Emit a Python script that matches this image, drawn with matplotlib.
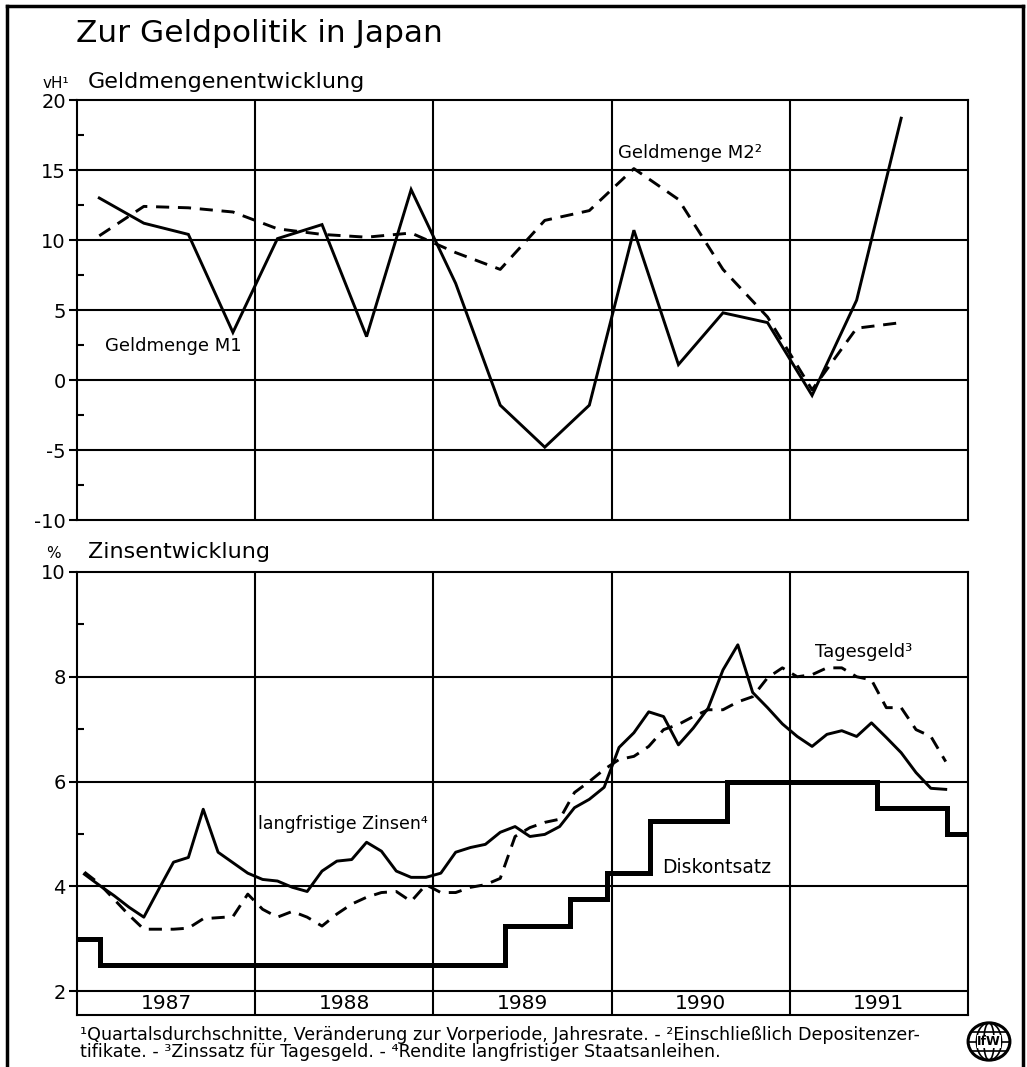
import matplotlib
matplotlib.use("Agg")
import matplotlib.pyplot as plt
import numpy as np
from matplotlib.lines import Line2D
from matplotlib.patches import Ellipse

plt.rcParams['font.family'] = ['DejaVu Sans']

# ---------------- Data ----------------
years = ['1987', '1988', '1989', '1990', '1991']

# Quarterly money growth (vH), Q1 1987 .. Q3 1991
m1_growth = [13.0, 11.2, 10.4, 3.4, 10.1, 11.1, 3.1, 13.6, 6.9, -1.8,
             -4.8, -1.8, 10.7, 1.1, 4.8, 4.1, -1.1, 5.7, 18.7]
m2_growth = [10.3, 12.4, 12.3, 12.0, 10.8, 10.4, 10.2, 10.5, 9.1, 7.9,
             11.4, 12.1, 15.1, 12.9, 7.9, 4.5, -0.7, 3.7, 4.1]

# Monthly interest rates (%), Jan 1987 .. Nov 1991
long_rate = [4.23, 4.02, 3.82, 3.60, 3.41, 3.94, 4.46, 4.55, 5.47, 4.65,
             4.45, 4.25, 4.13, 4.10, 3.98, 3.90, 4.29, 4.48, 4.51, 4.84,
             4.67, 4.29, 4.17, 4.17, 4.25, 4.65, 4.74, 4.80, 5.03, 5.14,
             4.95, 4.99, 5.14, 5.50, 5.66, 5.89, 6.65, 6.93, 7.33, 7.24,
             6.70, 7.02, 7.40, 8.13, 8.61, 7.70, 7.41, 7.10, 6.86, 6.67,
             6.90, 6.97, 6.86, 7.12, 6.84, 6.55, 6.17, 5.87, 5.85]
call_rate = [4.27, 4.05, 3.75, 3.45, 3.18, 3.18, 3.18, 3.20, 3.38, 3.40,
             3.42, 3.85, 3.56, 3.41, 3.52, 3.41, 3.24, 3.47, 3.66, 3.79,
             3.88, 3.90, 3.71, 4.03, 3.88, 3.88, 3.98, 4.03, 4.15, 4.95,
             5.12, 5.22, 5.28, 5.79, 6.00, 6.23, 6.42, 6.48, 6.67, 6.99,
             7.09, 7.24, 7.37, 7.37, 7.52, 7.62, 7.98, 8.17, 8.00, 8.04,
             8.17, 8.17, 8.00, 7.94, 7.41, 7.41, 6.99, 6.86, 6.38]

# Discount rate: change dates (months since Jan 1987) and levels
discount_dates = [0, 1.55, 28.85, 33.2, 35.7, 38.6, 43.8, 53.9, 58.6, 60]
discount_rate = [3.0, 2.5, 3.25, 3.75, 4.25, 5.25, 6.0, 5.5, 5.0, 5.0]

top_ticks = [-10, -5, 0, 5, 10, 15, 20]
bottom_ticks = [2, 4, 6, 8, 10]

# ---------------- Figure ----------------
W, H = 1027, 1067
fig = plt.figure(figsize=(W / 100, H / 100), dpi=100)


def fx(x):
    return x / W


def fy(y):
    return 1 - y / H


GRID_LW = 1.5
LINE_LW = 2.1
q_x = np.arange(len(m1_growth)) * 3 + 1.5
m_x = np.arange(len(long_rate)) + 0.5
year_bounds = [12, 24, 36, 48]

# ---- top panel ----
ax1 = fig.add_axes([fx(77), fy(520), fx(968) - fx(77), fy(100) - fy(520)])
ax1.set_xlim(0, 60)
ax1.set_ylim(-10, 20)
for v in top_ticks[1:-1]:
    ax1.axhline(v, color='black', lw=GRID_LW, zorder=1)
for b in year_bounds:
    ax1.axvline(b, color='black', lw=GRID_LW, zorder=1)
ax1.plot(q_x, m1_growth, color='black', lw=LINE_LW, zorder=3,
         solid_joinstyle='miter')
ax1.plot(q_x, m2_growth, color='black', lw=LINE_LW, zorder=3,
         dashes=(4.5, 3))
ax1.set_yticks(top_ticks)
ax1.set_yticklabels([str(t) for t in top_ticks])
ax1.set_yticks(np.arange(-7.5, 20, 5), minor=True)
ax1.set_xticks([])
ax1.tick_params(axis='y', which='major', direction='out', length=6,
                width=1.5, labelsize=14, pad=2)
ax1.tick_params(axis='y', which='minor', direction='in', length=5, width=1.5)
for s in ax1.spines.values():
    s.set_linewidth(GRID_LW)

ax1.text(1.9, 2.4, 'Geldmenge M1', fontsize=13, ha='left', va='center')
ax1.text(36.4, 16.2, 'Geldmenge M2²', fontsize=13, ha='left', va='center')

# ---- bottom panel ----
strip_bottom = 2 - 24 / 52.4
ax2 = fig.add_axes([fx(77), fy(1015), fx(968) - fx(77), fy(572) - fy(1015)])
ax2.set_xlim(0, 60)
ax2.set_ylim(strip_bottom, 10)
for v in [2, 4, 6, 8]:
    ax2.axhline(v, color='black', lw=GRID_LW, zorder=1)
for b in year_bounds:
    ax2.axvline(b, color='black', lw=GRID_LW, zorder=1)
ax2.plot(m_x, long_rate, color='black', lw=LINE_LW, zorder=3)
ax2.plot(m_x, call_rate, color='black', lw=LINE_LW, zorder=3,
         dashes=(4.5, 3))
ax2.step(discount_dates, discount_rate, where='post', color='black',
         lw=3.6, zorder=4, solid_joinstyle='miter')
ax2.set_yticks(bottom_ticks)
ax2.set_yticks([3, 5, 7, 9], minor=True)
ax2.set_xticks([])
ax2.tick_params(axis='y', which='major', direction='out', length=6,
                width=1.5, labelsize=14, pad=2)
ax2.tick_params(axis='y', which='minor', direction='in', length=5, width=1.5)
for s in ax2.spines.values():
    s.set_linewidth(GRID_LW)
for i, yr in enumerate(years):
    ax2.text(12 * i + 6, (2 + strip_bottom) / 2, yr, fontsize=14.5,
             ha='center', va='center')

ax2.text(12.2, 5.18, 'langfristige Zinsen⁴', fontsize=12.5, ha='left',
         va='center')
ax2.text(49.7, 8.48, 'Tagesgeld³', fontsize=13, ha='left', va='center')
ax2.text(39.4, 4.35, 'Diskontsatz', fontsize=13.5, ha='left', va='center')

# ---- titles / labels ----
fig.text(fx(76), fy(33), 'Zur Geldpolitik in Japan', fontsize=22.5,
         ha='left', va='center')
fig.text(fx(43), fy(83), 'vH¹', fontsize=11, ha='left', va='center')
fig.text(fx(88), fy(82), 'Geldmengenentwicklung', fontsize=16,
         ha='left', va='center')
fig.text(fx(46), fy(553), '%', fontsize=11, ha='left', va='center')
fig.text(fx(88), fy(552), 'Zinsentwicklung', fontsize=16,
         ha='left', va='center')

fig.text(fx(80), fy(1035),
         '¹Quartalsdurchschnitte, Veränderung zur Vorperiode, Jahresrate. - '
         '²Einschließlich Depositenzer-', fontsize=12.6, ha='left',
         va='center')
fig.text(fx(80), fy(1052),
         'tifikate. - ³Zinssatz für Tagesgeld. - ⁴Rendite langfristiger '
         'Staatsanleihen.', fontsize=12.6, ha='left', va='center')

# ---- outer frame ----
frame_kw = dict(color='black', lw=2.5, transform=fig.transFigure)
fig.add_artist(Line2D([fx(7), fx(7)], [fy(6), fy(1067)], **frame_kw))
fig.add_artist(Line2D([fx(7), fx(1023)], [fy(6), fy(6)], **frame_kw))
fig.add_artist(Line2D([fx(1023), fx(1023)], [fy(6), fy(1067)], **frame_kw))

# ---- logo ----
lax = fig.add_axes([fx(966), fy(1062), fx(1012) - fx(966), fy(1021) - fy(1062)])
lax.set_xlim(-1.1, 1.1)
lax.set_ylim(-1.1, 1.1)
lax.axis('off')
lax.add_patch(Ellipse((0, 0), 2, 2, fill=False, lw=2.2, color='black'))
for w in [1.2, 0.5]:
    lax.add_patch(Ellipse((0, 0), w, 2, fill=False, lw=1.2, color='black'))
for yy in [-0.5, 0, 0.5]:
    xx = np.sqrt(1 - yy ** 2)
    lax.plot([-xx, xx], [yy, yy], color='black', lw=1.2)
lax.text(0, 0, 'IfW', fontsize=9, fontweight='bold', ha='center',
         va='center', color='black',
         bbox=dict(facecolor='white', edgecolor='none', pad=0.3))

fig.savefig('out.png', dpi=100)
